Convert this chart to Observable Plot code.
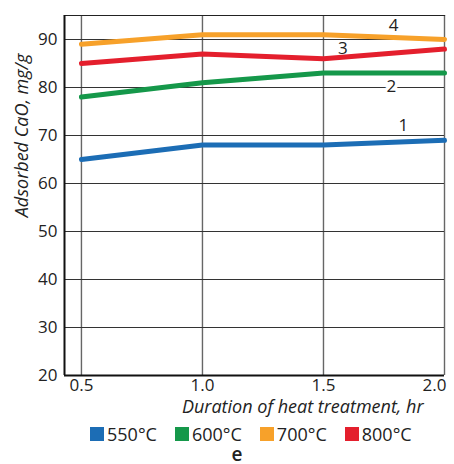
<!DOCTYPE html>
<html>
<head>
<meta charset="utf-8">
<script src="https://cdn.jsdelivr.net/npm/d3@7"></script>
<script src="https://cdn.jsdelivr.net/npm/@observablehq/plot@0.6"></script>
<style>
  html, body { margin: 0; padding: 0; background: #fff; overflow: hidden; }
  body { width: 454px; height: 464px; position: relative; font-family: "Open Sans", sans-serif; color: #222; }
  #chart svg { display: block; }
  .legend { position: absolute; left: 90px; top: 422px; height: 24px; display: flex; align-items: center; font-size: 18px; line-height: 22px; white-space: nowrap; }
  .legend span.item { display: inline-flex; align-items: center; margin-right: 18px; }
  .legend span.sw { width: 14px; height: 14px; display: inline-block; margin-right: 3px; }
  .panel { position: absolute; left: 0; width: 474px; top: 446px; text-align: center; font-size: 19px; font-weight: 600; line-height: 16px; }
</style>
</head>
<body>
<div id="chart"></div>
<script>
// Heat-treatment duration (hr)
const durations = [0.5, 1.0, 1.5, 2.0];
// Temperature series and their colours
const temperatures = ["550°C", "600°C", "700°C", "800°C"];
const colors = ["#1c6db5", "#15984a", "#f7a12a", "#e41f2d"];
const curveNumbers = ["1", "2", "4", "3"];
// Adsorbed CaO (mg/g) per temperature, one value per duration
const cao550 = [65, 68, 68, 69];
const cao600 = [78, 81, 83, 83];
const cao700 = [89, 91, 91, 90];
const cao800 = [85, 87, 86, 88];
// Curve-number label positions (duration, CaO)
const labelX = [1.83, 1.78, 1.79, 1.58];
const labelY = [72, 80.2, 92.9, 88.1];

const yTicks = [20, 30, 40, 50, 60, 70, 80, 90];

const seriesValues = [cao550, cao600, cao700, cao800];
const rows = temperatures.flatMap((t, i) =>
  durations.map((d, j) => ({temp: t, duration: d, cao: seriesValues[i][j]})));
const labels = temperatures.map((t, i) => ({temp: t, n: curveNumbers[i], x: labelX[i], y: labelY[i]}));

const chart = Plot.plot({
  width: 454,
  height: 418,
  marginTop: 15,
  marginLeft: 64,
  marginRight: 10,
  marginBottom: 43,
  style: {fontFamily: "'Open Sans', sans-serif", fontSize: "16px", color: "#222", background: "#fff"},
  x: {domain: [0.43, 2.0]},
  y: {domain: [20, 95]},
  color: {domain: temperatures, range: colors},
  marks: [
    Plot.gridX(durations, {stroke: "#666", strokeOpacity: 1, strokeWidth: 1.4}),
    Plot.gridY(yTicks.filter(v => v > 20), {stroke: "#333", strokeOpacity: 1, strokeWidth: 1}),
    Plot.frame({anchor: "top", stroke: "#222", strokeWidth: 1.2}),
    Plot.axisY(yTicks, {tickSize: 0, tickPadding: 7, fontSize: 17, label: null, fill: "#222"}),
    Plot.axisX(durations.slice(0, 3), {tickSize: 0, tickPadding: 3, fontSize: 17, label: null, tickFormat: d3.format(".1f"), fill: "#222"}),
    Plot.axisX(durations.slice(3), {tickSize: 0, tickPadding: 3, fontSize: 17, label: null, tickFormat: d3.format(".1f"), dx: -10, fill: "#222"}),
    Plot.ruleX([0.43], {stroke: "#111", strokeWidth: 2}),
    Plot.ruleY([20], {stroke: "#111", strokeWidth: 2}),
    Plot.line(rows, {x: "duration", y: "cao", z: "temp", stroke: "temp", strokeWidth: 5, strokeLinecap: "round", strokeLinejoin: "round"}),
    Plot.text(labels, {x: "x", y: "y", text: "n", fontSize: 17, fill: "#222", stroke: d => d.n === "2" ? "#fff" : "none", strokeWidth: 7, paintOrder: "stroke"}),
    Plot.text(["Duration of heat treatment, hr"], {frameAnchor: "bottom-right", dx: -21, dy: 37, fontSize: 18, fontStyle: "italic", textAnchor: "end", fill: "#222"}),
    Plot.text(["Adsorbed CaO, mg/g"], {frameAnchor: "left", dx: -42, dy: -60, rotate: -90, textAnchor: "middle", fontSize: 18, fontStyle: "italic", fill: "#222"})
  ]
});
document.getElementById("chart").append(chart);

const legend = document.createElement("div");
legend.className = "legend";
temperatures.forEach((t, i) => {
  const item = document.createElement("span");
  item.className = "item";
  const sw = document.createElement("span");
  sw.className = "sw";
  sw.style.background = colors[i];
  item.append(sw, document.createTextNode(t));
  legend.append(item);
});
document.body.append(legend);

const panel = document.createElement("div");
panel.className = "panel";
panel.textContent = "e";
document.body.append(panel);
</script>
</body>
</html>
